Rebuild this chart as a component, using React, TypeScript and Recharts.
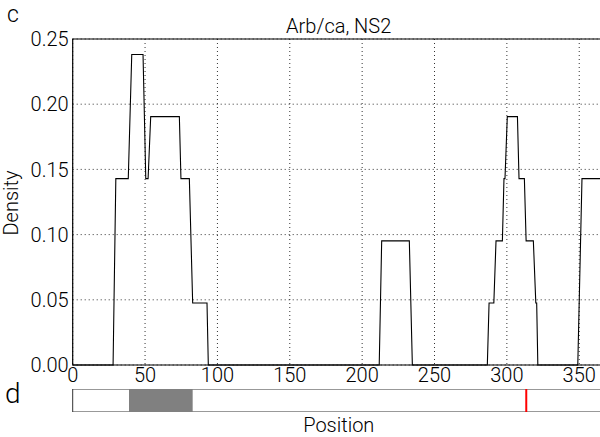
import React from "react";
import {
  LineChart,
  Line,
  XAxis,
  YAxis,
  CartesianGrid,
  ReferenceArea,
  ReferenceLine,
  ComposedChart,
} from "recharts";

// ---- data ----
const positions = [
  0, 27.9, 29.8, 38.4, 40.8, 48.6, 50.5, 52.1, 53.9, 73.7, 74.8, 80.6, 82.9, 92.8, 93.7,
  211.8, 213.5, 232.6, 234.7,
  286.5, 287.7, 291.0, 292.5, 296.9, 298.0, 298.7, 300.3, 307.3, 308.4, 312.1, 313.3, 318.3, 320.0, 320.6, 321.4,
  349.0, 351.9, 367.6,
];
const densities = [
  0, 0, 0.1429, 0.1429, 0.2381, 0.2381, 0.1429, 0.1429, 0.1905, 0.1905, 0.1429, 0.1429, 0.0476, 0.0476, 0,
  0, 0.0952, 0.0952, 0,
  0, 0.0476, 0.0476, 0.0952, 0.0952, 0.1429, 0.1429, 0.1905, 0.1905, 0.1429, 0.1429, 0.0952, 0.0952, 0.0476, 0.0476, 0,
  0, 0.1429, 0.1429,
];
const xTicks = [0, 50, 100, 150, 200, 250, 300, 350];
const yTicks = [0, 0.05, 0.1, 0.15, 0.2, 0.25];
const xMax = 367.6;
const domainRegion = [38.9, 82.9];
const markerPos = 313.4;
const title = "Arb/ca, NS2";

const lineData = positions.map((p, i) => ({ pos: p, d: densities[i] }));
const barData = [{ pos: 0, v: 0 }, { pos: xMax, v: 0 }];

const FONT = "Roboto, 'Liberation Sans', sans-serif";
const tickStyle = { fontSize: 20, fill: "#000", fontFamily: FONT, fontWeight: 300 };

export default function App() {
  return (
    <div
      style={{
        position: "fixed",
        left: 0,
        top: 0,
        width: 600,
        height: 437,
        overflow: "hidden",
        background: "#fff",
      }}
    >
      <div style={{ position: "absolute", left: 0, top: 0 }}>
        <LineChart
          width={608}
          height={393}
          data={lineData}
          margin={{ top: 39, right: 3.3, left: 0, bottom: 0 }}
        >
          <CartesianGrid
            stroke="#333"
            strokeDasharray="1 3"
            strokeWidth={1}
            verticalValues={xTicks}
            horizontalValues={yTicks}
          />
          <XAxis
            dataKey="pos"
            type="number"
            domain={[0, xMax]}
            ticks={xTicks}
            interval={0}
            allowDataOverflow
            height={28}
            axisLine={false}
            tickLine={false}
            tickSize={3}
            tickMargin={0}
            tick={tickStyle}
          />
          <YAxis
            type="number"
            domain={[0, 0.25]}
            ticks={yTicks}
            interval={0}
            width={72.7}
            axisLine={false}
            tickLine={false}
            tickSize={4}
            tickMargin={0}
            tick={tickStyle}
            tickFormatter={(v: number) => v.toFixed(2)}
          />
          <ReferenceArea
            x1={0}
            x2={xMax}
            y1={0}
            y2={0.25}
            fill="none"
            fillOpacity={0}
            stroke="#000"
            strokeWidth={1.2}
          />
          <Line
            type="linear"
            dataKey="d"
            stroke="#000"
            strokeWidth={1.1}
            dot={false}
            activeDot={false}
            isAnimationActive={false}
          />
        </LineChart>
      </div>
      <div style={{ position: "absolute", left: 0, top: 389 }}>
        <ComposedChart
          width={608}
          height={23}
          data={barData}
          margin={{ top: 0, right: 3.3, left: 72.7, bottom: 0 }}
        >
          <XAxis dataKey="pos" type="number" domain={[0, xMax]} hide />
          <YAxis type="number" domain={[0, 1]} hide />
          <ReferenceArea
            x1={0}
            x2={xMax}
            y1={0}
            y2={1}
            fill="#fff"
            fillOpacity={1}
            stroke="#333"
            strokeWidth={1}
          />
          <ReferenceArea
            x1={domainRegion[0]}
            x2={domainRegion[1]}
            y1={0}
            y2={1}
            fill="#808080"
            fillOpacity={1}
            stroke="none"
          />
          <ReferenceLine x={markerPos} stroke="#ff0000" strokeWidth={2} />
          <Line dataKey="v" stroke="none" dot={false} isAnimationActive={false} />
        </ComposedChart>
      </div>
      <svg
        width={600}
        height={437}
        style={{ position: "absolute", left: 0, top: 0, pointerEvents: "none" }}
        fontFamily={FONT}
        fontWeight={300}
      >
        <text x={7} y={22} fontSize={23} fill="#000">c</text>
        <text x={5} y={403} fontSize={28} fill="#000">d</text>
        <text x={338.7} y={32.7} fontSize={20} textAnchor="middle" fill="#000">{title}</text>
        <text x={338.8} y={432} fontSize={20} textAnchor="middle" fill="#000">Position</text>
        <text
          x={0}
          y={0}
          fontSize={20}
          textAnchor="middle"
          fill="#000"
          transform="translate(17.5,203) rotate(-90)"
        >
          Density
        </text>
      </svg>
    </div>
  );
}
